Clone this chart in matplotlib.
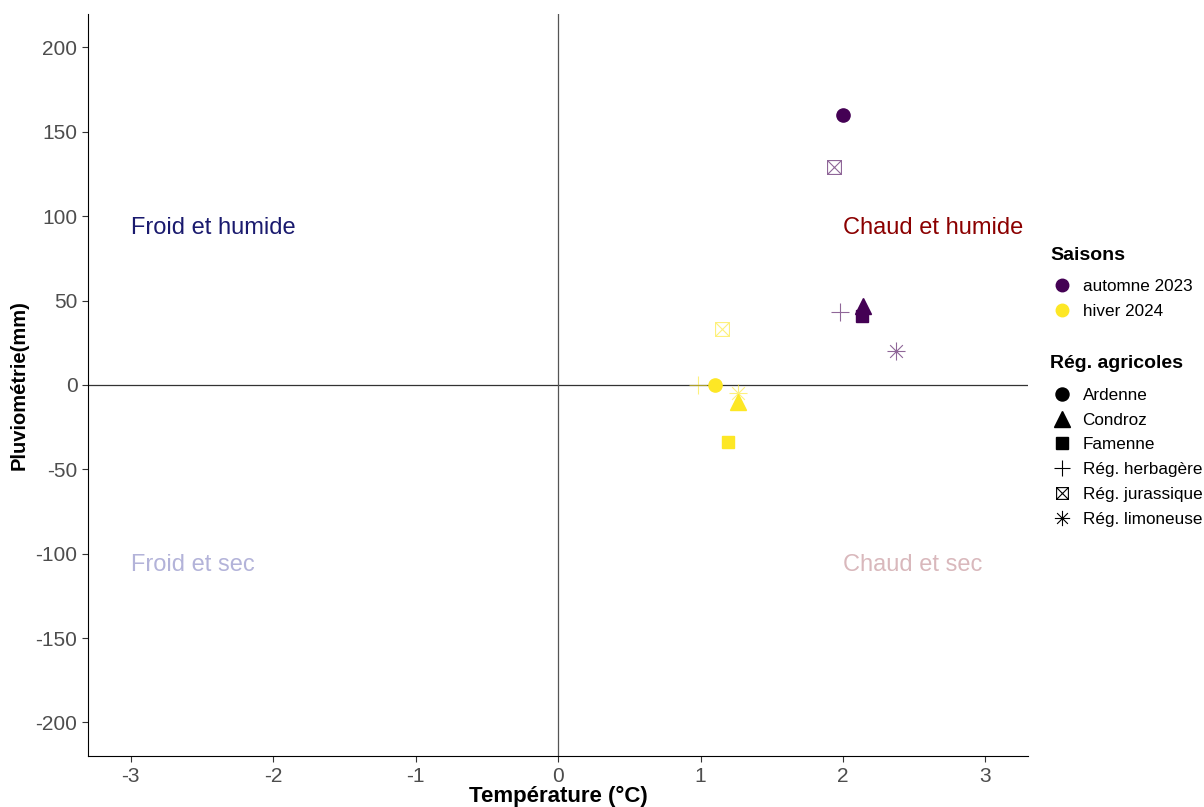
import numpy as np
import matplotlib.pyplot as plt
from matplotlib.lines import Line2D
from matplotlib.path import Path

plt.rcParams['font.family'] = ['Liberation Sans', 'DejaVu Sans']
plt.rcParams['axes.unicode_minus'] = False

# Data (temperature anomaly, precipitation anomaly)
regions = ['Ardenne', 'Condroz', 'Famenne', 'Rég. herbagère', 'Rég. jurassique', 'Rég. limoneuse']
saisons = ['automne 2023', 'hiver 2024']
temp_automne = [2.00, 2.14, 2.13, 1.98, 1.94, 2.37]
pluie_automne = [160, 47, 41, 43, 129, 20]
temp_hiver = [1.10, 1.26, 1.19, 0.98, 1.15, 1.26]
pluie_hiver = [0, -10, -34, 0, 33, -5]

colors = {'automne 2023': '#440154', 'hiver 2024': '#FDE725'}

# boxed x marker (ggplot shape 7)
box_x = Path([(-1, -1), (1, -1), (1, 1), (-1, 1), (-1, -1),
              (-1, -1), (1, 1), (-1, 1), (1, -1)],
             [Path.MOVETO, Path.LINETO, Path.LINETO, Path.LINETO, Path.CLOSEPOLY,
              Path.MOVETO, Path.LINETO, Path.MOVETO, Path.LINETO])
# asterisk (ggplot shape 8)
ang = np.deg2rad([90, 270, 0, 180, 45, 225, 135, 315])
pts = [(np.cos(a), np.sin(a)) for a in ang]
star = Path(pts, [Path.MOVETO, Path.LINETO] * 4)

markers = {
    'Ardenne': ('o', 9.5, True),
    'Condroz': ('^', 11.5, True),
    'Famenne': ('s', 9, True),
    'Rég. herbagère': ('+', 13, False),
    'Rég. jurassique': (box_x, 10, False),
    'Rég. limoneuse': (star, 13, False),
}
legend_ms = {'Ardenne': 9.4, 'Condroz': 11.5, 'Famenne': 8.5,
             'Rég. herbagère': 11, 'Rég. jurassique': 8.5, 'Rég. limoneuse': 11}

fig, ax = plt.subplots(figsize=(12.04, 8.07), dpi=100)
fig.subplots_adjust(left=0.073, right=0.854, top=0.983, bottom=0.063)

ax.axhline(0, color='#333333', lw=0.9, zorder=1)
ax.axvline(0, color='#555555', lw=0.9, zorder=1)

for saison, tx, py in [('automne 2023', temp_automne, pluie_automne),
                        ('hiver 2024', temp_hiver, pluie_hiver)]:
    c = colors[saison]
    for reg, x, y in zip(regions, tx, py):
        m, s, filled = markers[reg]
        if filled:
            ax.plot(x, y, marker=m, ms=s, color=c, mec=c, ls='none', zorder=3)
        else:
            ax.plot(x, y, marker=m, ms=s, color=c, mfc='none', mec=c, mew=0.8,
                    alpha=0.6, ls='none', zorder=3)

txt = dict(fontsize=17, va='center', ha='left')
ax.text(-3.0, 93, 'Froid et humide', color='#1A1A6E', **txt)
ax.text(2.0, 93, 'Chaud et humide', color='#8B0000', **txt)
ax.text(-3.0, -107, 'Froid et sec', color='#B3B3D9', **txt)
ax.text(2.0, -107, 'Chaud et sec', color='#D9B8BC', **txt)

ax.set_xlim(-3.3, 3.3)
ax.set_ylim(-220, 220)
ax.set_xticks([-3, -2, -1, 0, 1, 2, 3])
ax.set_yticks([-200, -150, -100, -50, 0, 50, 100, 150, 200])
ax.tick_params(labelsize=15, labelcolor='#4D4D4D', length=4, color='#333333')
ax.set_xlabel('Température (°C)', fontsize=16, fontweight='bold', labelpad=0)
ax.set_ylabel('Pluviométrie(mm)', fontsize=14.5, fontweight='bold', labelpad=5)
for sp in ['top', 'right']:
    ax.spines[sp].set_visible(False)

# legend titles as separate text
fig.text(1050 / 1204, 1 - 255 / 807, 'Saisons', fontsize=14, fontweight='bold',
         ha='left', va='center')
fig.text(1050 / 1204, 1 - 363 / 807, 'Rég. agricoles', fontsize=14,
         fontweight='bold', ha='left', va='center')

h1 = [Line2D([], [], marker='o', ms=9, color=colors[s], ls='none') for s in saisons]
leg1 = fig.legend(h1, saisons, loc='upper left',
                  bbox_to_anchor=(1051 / 1204, 1 - 279 / 807), frameon=False,
                  fontsize=12.3, borderpad=0, borderaxespad=0,
                  handlelength=1.3, handletextpad=0.55, labelspacing=0.57)

h2 = []
for reg in regions:
    m, s, filled = markers[reg]
    if filled:
        h2.append(Line2D([], [], marker=m, ms=legend_ms[reg], color='black', ls='none'))
    else:
        h2.append(Line2D([], [], marker=m, ms=legend_ms[reg], color='black',
                         mfc='none', mew=0.8, ls='none'))
fig.legend(h2, regions, loc='upper left',
           bbox_to_anchor=(1051 / 1204, 1 - 388 / 807), frameon=False,
           fontsize=12.3, borderpad=0, borderaxespad=0,
           handlelength=1.3, handletextpad=0.55, labelspacing=0.57)

fig.savefig('out.png', dpi=100)
